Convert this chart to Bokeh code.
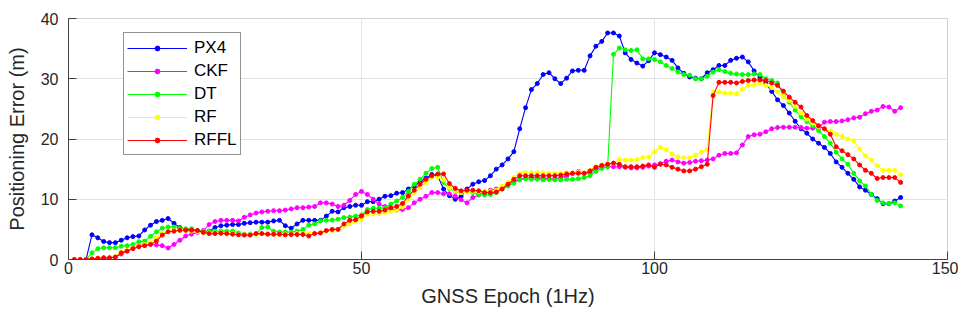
from bokeh.plotting import figure
from bokeh.models import Legend, LegendItem, Range1d, FixedTicker
from bokeh.embed import file_html
from bokeh.resources import INLINE

epoch = list(range(1, 143))

px4 = [0, 0, 0, 4.1, 3.6, 3.0, 2.8, 2.8, 3.2, 3.6,
       3.8, 3.9, 4.9, 5.7, 6.3, 6.5, 6.8, 6.0, 5.3, 5.0,
       5.0, 4.8, 4.7, 4.7, 5.3, 5.6, 5.7, 5.8, 5.8, 6.0,
       6.1, 6.2, 6.2, 6.2, 6.4, 6.5, 5.6, 5.2, 5.9, 6.5,
       6.5, 6.5, 6.5, 7.2, 8.0, 7.9, 8.6, 8.8, 9.0, 9.0,
       9.6, 9.6, 10.0, 10.5, 10.6, 11.0, 11.1, 11.7, 12.2, 12.9,
       13.5, 14.1, 13.9, 11.7, 10.6, 10.0, 10.5, 11.7, 12.5, 12.9,
       13.1, 13.9, 15.0, 15.7, 16.7, 17.9, 21.7, 25.2, 28.2, 29.2,
       30.7, 31.0, 30.0, 29.2, 30.1, 31.3, 31.4, 31.4, 33.8, 35.4,
       36.2, 37.6, 37.6, 37.1, 34.3, 33.2, 32.6, 32.1, 33.0, 34.3,
       34.0, 33.6, 33.05, 31.8, 30.9, 30.3, 30.1, 30.0, 31.0, 31.5,
       32.2, 32.2, 33.05, 33.4, 33.6, 32.8, 31.3, 30.2, 29.2, 27.9,
       26.5, 25.55, 24.3, 22.95, 21.7, 20.95, 20.0, 19.3, 18.6, 17.6,
       16.2, 15.3, 14.3, 13.3, 12.05, 11.5, 10.8, 10.1, 9.27, 9.27,
       9.7, 10.3]

ckf = [0, 0, 0, 0, 0, 0.1, 0.2, 0.4, 0.9, 1.4,
       1.9, 2.3, 2.5, 2.6, 2.4, 2.3, 1.9, 2.5, 3.2, 3.9,
       4.2, 4.5, 4.8, 5.8, 6.3, 6.5, 6.5, 6.5, 6.4, 7.0,
       7.4, 7.7, 7.9, 8.0, 8.1, 8.1, 8.2, 8.4, 8.6, 8.6,
       8.7, 8.8, 9.4, 9.4, 9.2, 8.8, 9.0, 9.8, 10.8, 11.3,
       10.8, 10.0, 9.2, 8.8, 8.4, 8.2, 8.3, 8.6, 9.4, 10.0,
       10.5, 11.1, 11.1, 10.9, 10.9, 10.5, 9.9, 9.4, 10.3, 10.7,
       11.1, 11.5, 11.7, 11.9, 12.5, 12.9, 13.3, 13.5, 13.6, 13.5,
       13.5, 13.4, 13.4, 13.6, 13.8, 14.3, 14.6, 14.3, 14.4, 15.0,
       15.3, 15.4, 15.4, 15.4, 15.3, 15.2, 15.2, 15.3, 15.5, 15.7,
       15.9, 16.3, 16.5, 16.2, 16.0, 16.1, 16.3, 16.4, 16.5, 16.7,
       17.3, 17.6, 17.6, 17.7, 19.0, 20.4, 20.7, 20.8, 21.2, 21.7,
       21.9, 21.95, 21.95, 21.95, 21.9, 21.8, 21.8, 21.9, 22.8, 22.9,
       22.9, 23.0, 23.2, 23.5, 23.6, 24.2, 24.6, 24.8, 25.4, 25.3,
       24.6, 25.2]

dt = [0, 0, 0, 1.1, 1.8, 1.95, 1.95, 1.95, 2.2, 2.3,
      2.5, 2.95, 3.05, 3.85, 4.6, 5.2, 5.4, 5.4, 5.2, 5.1,
      5.1, 4.8, 4.7, 4.7, 4.7, 4.7, 4.7, 4.7, 4.4, 4.2,
      4.2, 4.2, 5.3, 5.4, 4.7, 4.55, 4.55, 4.55, 4.7, 5.0,
      5.7, 5.9, 6.4, 6.5, 6.55, 6.7, 6.95, 7.05, 7.2, 7.4,
      8.3, 8.5, 8.5, 8.6, 9.2, 9.7, 10.3, 11.3, 12.5, 13.3,
      14.3, 15.1, 15.3, 12.8, 11.8, 11.3, 11.1, 11.3, 11.1, 10.8,
      10.7, 10.8, 11.1, 11.7, 12.2, 12.7, 13.2, 13.4, 13.3, 13.3,
      13.2, 13.3, 13.2, 13.2, 13.3, 13.3, 13.4, 13.6, 13.9, 14.6,
      15.1, 15.4, 34.05, 35.1, 34.8, 34.7, 34.8, 33.3, 33.3, 33.2,
      32.8, 32.2, 31.7, 31.1, 30.7, 30.6, 30.0, 30.0, 30.4, 31.1,
      31.5, 31.2, 30.9, 30.8, 30.7, 30.7, 30.8, 30.7, 30.0, 29.7,
      29.3, 27.2, 26.1, 24.8, 23.7, 22.9, 22.2, 21.4, 20.4, 19.3,
      17.8, 16.7, 15.8, 14.3, 13.05, 12.2, 10.8, 9.8, 9.4, 9.3,
      9.4, 8.9]

rf = [0, 0, 0, 0.1, 0.2, 0.3, 0.3, 0.5, 1.2, 1.5,
      1.9, 2.2, 2.5, 2.8, 3.6, 4.3, 4.7, 4.8, 4.8, 4.8,
      4.7, 4.6, 4.5, 4.4, 4.4, 4.4, 4.4, 4.3, 4.2, 4.1,
      4.1, 4.2, 4.3, 4.3, 4.2, 4.2, 4.2, 4.2, 4.3, 4.3,
      4.3, 4.4, 4.5, 4.7, 4.8, 5.0, 5.5, 5.9, 6.3, 6.6,
      7.5, 7.6, 7.6, 7.8, 8.0, 8.2, 8.7, 10.0, 11.1, 11.9,
      12.8, 13.6, 13.7, 13.2, 11.9, 11.4, 11.1, 11.2, 11.3, 11.3,
      11.3, 11.3, 11.5, 12.2, 12.8, 13.6, 14.3, 14.4, 14.4, 14.4,
      14.4, 14.3, 14.3, 14.3, 14.4, 14.4, 14.5, 14.4, 14.8, 15.4,
      15.7, 15.9, 16.0, 16.6, 16.5, 16.5, 16.6, 16.9, 17.0, 17.9,
      18.6, 18.2, 17.5, 17.0, 16.9, 16.9, 17.3, 17.8, 18.3, 27.8,
      27.8, 27.6, 27.6, 27.5, 28.3, 28.9, 29.0, 29.3, 28.9, 28.5,
      27.8, 27.05, 26.4, 25.4, 24.3, 23.3, 22.6, 22.05, 21.7, 21.3,
      20.8, 20.4, 20.0, 19.7, 18.3, 17.2, 16.5, 15.55, 14.8, 14.8,
      14.8, 14.05]

rffl = [0, 0, 0, 0.1, 0.2, 0.3, 0.3, 0.4, 1.1, 1.4,
        1.8, 2.1, 2.3, 2.5, 3.05, 4.05, 4.6, 4.7, 4.85, 4.85,
        4.85, 4.8, 4.5, 4.3, 4.3, 4.35, 4.3, 4.2, 4.1, 4.05,
        4.05, 4.3, 4.3, 4.2, 4.2, 4.2, 4.1, 4.15, 4.15, 4.15,
        3.9, 4.3, 4.4, 4.8, 5.0, 5.0, 5.9, 6.5, 6.6, 7.2,
        7.9, 8.0, 8.0, 8.2, 8.6, 8.8, 9.3, 10.55, 11.5, 12.5,
        13.3, 13.9, 14.2, 14.2, 12.6, 11.8, 11.4, 11.5, 11.5, 11.4,
        11.1, 11.1, 11.2, 11.7, 12.5, 13.3, 13.9, 13.9, 13.9, 13.9,
        13.9, 13.9, 13.9, 14.0, 14.2, 14.3, 14.3, 14.3, 14.7, 15.3,
        15.6, 15.8, 16.0, 15.8, 15.4, 15.4, 15.4, 15.5, 15.7, 15.3,
        15.8, 15.7, 15.3, 15.0, 14.7, 14.7, 15.0, 15.4, 15.8, 27.2,
        29.4, 29.4, 29.4, 29.3, 29.55, 29.7, 29.8, 29.8, 29.7, 29.3,
        28.9, 27.95, 26.95, 26.1, 25.3, 23.9, 23.05, 22.2, 21.7, 20.8,
        18.7, 18.05, 17.4, 16.7, 15.7, 14.8, 14.3, 13.45, 13.6, 13.6,
        13.6, 12.8]

series_names = ["PX4", "CKF", "DT", "RF", "RFFL"]
series_values = [px4, ckf, dt, rf, rffl]
series_colors = ["#0000ff", "#ff00ff", "#00ff00", "#ffff00", "#ff0000"]

x_ticks = [0, 50, 100, 150]
y_ticks = [0, 10, 20, 30, 40]

FONT = "Liberation Sans"
TXT = "#262626"

p = figure(width=958, height=314, output_backend="svg", toolbar_location=None,
           x_range=Range1d(0, 150), y_range=Range1d(0, 40),
           min_border_left=68, min_border_right=11, min_border_top=18,
           min_border_bottom=55, background_fill_color="white")

items = []
for name, vals, col in zip(series_names, series_values, series_colors):
    rl = p.line(epoch, vals, line_color=col, line_width=1.1)
    rs = p.scatter(epoch, vals, size=4, fill_color=col, line_color=col)
    items.append(LegendItem(label=name, renderers=[rl, rs]))

for ax in (p.xaxis[0], p.yaxis[0]):
    ax.major_tick_in = 8
    ax.major_tick_out = 0
    ax.minor_tick_line_color = None
    ax.axis_line_color = "#404040"
    ax.major_tick_line_color = "#404040"
    ax.major_label_text_font = FONT
    ax.major_label_text_font_size = "16px"
    ax.major_label_text_color = TXT
    ax.axis_label_text_font = FONT
    ax.axis_label_text_font_size = "20px"
    ax.axis_label_text_font_style = "normal"
    ax.axis_label_text_color = TXT

p.xaxis.ticker = FixedTicker(ticks=x_ticks)
p.yaxis.ticker = FixedTicker(ticks=y_ticks)
p.xaxis.axis_label = "GNSS Epoch (1Hz)"
p.yaxis.axis_label = "Positioning Error (m)"
p.xaxis.major_label_standoff = 2
p.xaxis.axis_label_standoff = 8
p.yaxis.major_label_standoff = 10
p.yaxis.axis_label_standoff = 10

p.xgrid.ticker = FixedTicker(ticks=x_ticks)
p.ygrid.ticker = FixedTicker(ticks=y_ticks)
p.grid.grid_line_color = "#e3e3e3"
p.grid.grid_line_width = 1
p.outline_line_color = "#d0d0d0"

legend = Legend(items=items, location=(55, 104), orientation="vertical",
                label_text_font=FONT, label_text_font_size="17px",
                label_text_color="#000000", glyph_width=60, glyph_height=12,
                label_height=23, label_standoff=7, spacing=0, padding=3,
                border_line_color="#262626", border_line_width=1,
                background_fill_color="white", background_fill_alpha=1.0)
p.add_layout(legend, "center")

open("out.html", "w").write(file_html(p, INLINE))
